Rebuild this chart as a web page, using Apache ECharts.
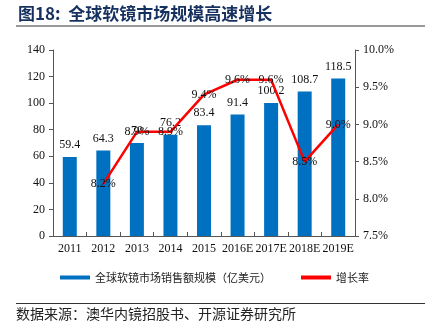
<!DOCTYPE html>
<html><head><meta charset="utf-8">
<script src="https://cdn.jsdelivr.net/npm/echarts@6/dist/echarts.min.js"></script>
<style>html,body{margin:0;padding:0;background:#fff}#c{width:425px;height:327px}</style>
</head><body><div id="c"></div>
<script>
var categories = ['2011','2012','2013','2014','2015','2016E','2017E','2018E','2019E'];
var marketSize = [59.4,64.3,70,76.2,83.4,91.4,100.2,108.7,118.5];
var growthRate = [null,8.2,8.9,8.9,9.4,9.6,9.6,8.5,9.0];
var leftTicks = {min:0,max:140,interval:20};
var rightTicks = {min:7.5,max:10,interval:0.5};

var serif = '"Liberation Serif","Times New Roman",serif';
var cjk = '"Noto Sans CJK SC",sans-serif';
var chart = echarts.init(document.getElementById('c'));
chart.setOption({
  animation:false,
  grid:{left:53,right:70,top:50,bottom:91},
  legend:{
    bottom:44,left:60,padding:0,itemWidth:30,itemHeight:4,itemGap:30,
    textStyle:{fontFamily:cjk,fontSize:11,color:'#222'},
    data:[{name:'全球软镜市场销售额规模（亿美元）',icon:'rect'},{name:'增长率',icon:'rect',itemStyle:{color:'#FF0000'}}]
  },
  xAxis:{type:'category',data:categories,
    axisLine:{lineStyle:{color:'#555'}},
    axisTick:{show:true,inside:true,length:4,lineStyle:{color:'#555'}},
    axisLabel:{fontFamily:serif,fontSize:12,color:'#111',margin:7,interval:0}},
  yAxis:[
    {type:'value',min:leftTicks.min,max:leftTicks.max,interval:leftTicks.interval,
     splitLine:{show:false},axisLine:{show:true,lineStyle:{color:'#555'}},
     axisTick:{show:true,length:4,lineStyle:{color:'#555'}},
     axisLabel:{fontFamily:serif,fontSize:12,color:'#111',margin:8}},
    {type:'value',min:rightTicks.min,max:rightTicks.max,interval:rightTicks.interval,
     splitLine:{show:false},axisLine:{show:true,lineStyle:{color:'#555'}},
     axisTick:{show:true,length:4,lineStyle:{color:'#555'}},
     axisLabel:{fontFamily:serif,fontSize:12,color:'#111',margin:8,formatter:function(v){return v.toFixed(1)+'%';}}}
  ],
  series:[
    {name:'全球软镜市场销售额规模（亿美元）',type:'bar',data:marketSize,barWidth:14,
     itemStyle:{color:'#0070C0'},
     label:{show:true,position:'top',distance:6,fontFamily:serif,fontSize:12,color:'#111'}},
    {name:'增长率',type:'line',yAxisIndex:1,data:growthRate,
     lineStyle:{color:'#FF0000',width:2.5},itemStyle:{color:'#FF0000'},
     symbol:'circle',symbolSize:0.1,
     label:{show:true,position:'inside',fontFamily:serif,fontSize:12,color:'#111',
       formatter:function(p){return p.value.toFixed(1)+'%';}}}
  ],
  graphic:[
    {type:'text',left:18,top:5,style:{text:'图18:  全球软镜市场规模高速增长',font:'bold 17px "Noto Sans CJK SC",sans-serif',fill:'#16305F'}},
    {type:'rect',shape:{x:16,y:25,width:409,height:2},style:{fill:'#999'}},
    {type:'rect',shape:{x:16,y:303,width:409,height:1},style:{fill:'#333'}},
    {type:'text',left:16,top:307,style:{text:'数据来源：澳华内镜招股书、开源证券研究所',font:'14px "Noto Sans CJK SC",sans-serif',fill:'#222'}}
  ]
});
</script></body></html>
